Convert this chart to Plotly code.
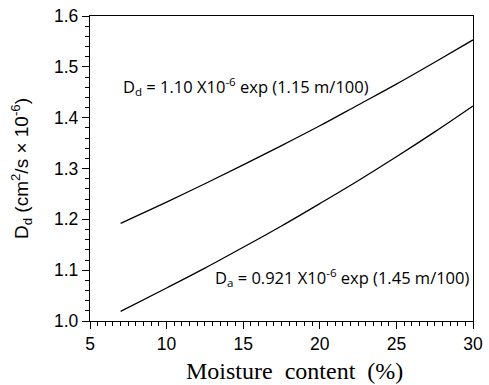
import plotly.graph_objects as go

moisture = [7, 10, 12.5, 15, 17.5, 20, 22.5, 25, 27.5, 30]
d_d = [1.192, 1.234, 1.270, 1.307, 1.345, 1.384, 1.425, 1.466, 1.509, 1.553]
d_a = [1.019, 1.065, 1.104, 1.145, 1.187, 1.231, 1.276, 1.323, 1.372, 1.423]

x_range = [5, 30]
y_range = [1.0, 1.6]

fig = go.Figure()
for ys in (d_d, d_a):
    fig.add_trace(go.Scatter(x=moisture, y=ys, mode="lines",
                             line=dict(color="black", width=1.3, shape="spline"),
                             showlegend=False, hoverinfo="skip"))

ann_font = dict(family="Open Sans, DejaVu Sans, sans-serif", size=16.5, color="black")
fig.add_annotation(x=7.0, y=1.462, xref="x", yref="y", xanchor="left", yanchor="middle",
                   text="D<sub>d</sub> = 1.10 X10<sup>-6</sup> exp (1.15 m/100)",
                   showarrow=False, font=ann_font)
fig.add_annotation(x=29.85, y=1.086, xref="x", yref="y", xanchor="right", yanchor="middle",
                   text="D<sub>a</sub> = 0.921 X10<sup>-6</sup> exp (1.45 m/100)",
                   showarrow=False, font=ann_font)
# x-axis title placed as annotation (slightly right of centre, as in the original)
fig.add_annotation(x=0.535, y=-0.164, xref="paper", yref="paper", xanchor="center", yanchor="middle",
                   text="Moisture  content  (%)", showarrow=False,
                   font=dict(family="Liberation Serif, Times New Roman, serif", size=24, color="black"))

axis_common = dict(showline=True, linecolor="black", linewidth=1.3, mirror=True,
                   showgrid=False, zeroline=False, ticks="outside", ticklen=7,
                   tickcolor="black", tickwidth=1.3, automargin=False,
                   ticklabeloverflow="allow",
                   tickfont=dict(family="Liberation Sans, Arial, sans-serif", size=17.5, color="black"))

fig.update_xaxes(range=x_range, tickmode="linear", tick0=5, dtick=5,
                 minor=dict(dtick=0.5, tick0=5, ticks="outside", ticklen=4, tickcolor="black", tickwidth=1.2),
                 **axis_common)
fig.update_yaxes(range=y_range, tickmode="linear", tick0=1.0, dtick=0.1, tickformat=".1f",
                 minor=dict(dtick=0.02, tick0=1.0, ticks="outside", ticklen=4, tickcolor="black", tickwidth=1.2),
                 title=dict(text="D<sub>d</sub> (cm<sup>2</sup>/s × 10<sup>-6</sup>)", standoff=20,
                            font=dict(family="Liberation Sans, Arial, sans-serif", size=19, color="black")),
                 **axis_common)

fig.update_layout(width=489, height=385, margin=dict(l=90, r=16, t=16, b=64, autoexpand=False),
                  paper_bgcolor="white", plot_bgcolor="white")

fig.write_html("out.html", config={"displayModeBar": False},
               post_script="document.body.style.margin='0';document.body.style.overflow='hidden';")
